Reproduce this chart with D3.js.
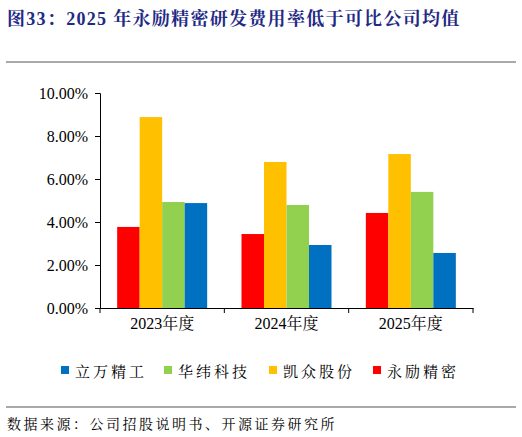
<!DOCTYPE html><html><head><meta charset="utf-8"><script src="https://d3js.org/d3.v7.min.js"></script>
<style>body{margin:0;background:#fff}svg{display:block}</style></head><body><svg width="522" height="437"></svg>
<script>
const categories=["2023年度","2024年度","2025年度"];
const seriesNames=["永励精密","凯众股份","华纬科技","立万精工"];
const seriesColors=["#FF0000","#FFC000","#92D050","#0070C0"];
const values=[[3.77,3.44,4.42],[8.88,6.79,7.16],[4.93,4.79,5.40],[4.88,2.93,2.56]];
const yTicks=[0,2,4,6,8,10];
const legendOrder=[3,2,1,0];
const svg=d3.select("svg");
const serif="'Liberation Serif','Noto Serif CJK SC','Noto Sans CJK SC',serif";
const cjk="'Noto Serif CJK SC','Noto Sans CJK SC',serif";
svg.append("text").attr("x",7).attr("y",25).attr("fill","#1F2A84").attr("font-weight","bold").attr("font-size",18).attr("letter-spacing",1.3).attr("font-family",serif).text("图33：2025 年永励精密研发费用率低于可比公司均值");
svg.append("line").attr("x1",6).attr("x2",516).attr("y1",62).attr("y2",62).attr("stroke","#555");
svg.append("line").attr("x1",6).attr("x2",516).attr("y1",407).attr("y2",407).attr("stroke","#555");
const y=d3.scaleLinear().domain([0,10]).range([308,93]);
const x0=d3.scaleBand().domain(categories).range([100,473]);
const x1=d3.scaleBand().domain(d3.range(4)).range([0,90]);
const g=svg.append("g");
values.forEach((vals,s)=>{
  g.selectAll(null).data(vals).enter().append("rect")
   .attr("x",(d,i)=>x0(categories[i])+(x0.bandwidth()-90)/2+x1(s)).attr("width",x1.bandwidth())
   .attr("y",d=>y(d)).attr("height",d=>308-y(d)).attr("fill",seriesColors[s]);
});
const ya=svg.append("g").attr("transform","translate(100,0)").call(d3.axisLeft(y).tickValues(yTicks).tickSize(5).tickFormat(d=>d.toFixed(2)+"%"));
ya.selectAll("text").attr("font-family",serif).attr("font-size",16).attr("fill","#000").attr("dx",-4);
ya.selectAll("line,path").attr("stroke","#000");
const xa=svg.append("g").attr("transform","translate(0,308)").call(d3.axisBottom(x0).tickSize(0));
xa.select("path").attr("stroke","#000");
xa.selectAll("text").attr("font-family",serif).attr("font-size",16).attr("fill","#000").attr("dy",18);
xa.selectAll(null).data(categories.concat(["end"])).enter().append("line")
 .attr("x1",(d,i)=>i<3?x0(d):473).attr("x2",(d,i)=>i<3?x0(d):473).attr("y1",0).attr("y2",5).attr("stroke","#000");
const lx=[61,164,269,373];
legendOrder.forEach((s,k)=>{
 svg.append("rect").attr("x",lx[k]).attr("y",366).attr("width",8).attr("height",8).attr("fill",seriesColors[s]);
 svg.append("text").attr("x",lx[k]+14).attr("y",377).attr("font-family",cjk).attr("font-size",15).attr("letter-spacing",3).text(seriesNames[s]);
});
svg.append("text").attr("x",7).attr("y",429).attr("font-family",cjk).attr("font-size",14).attr("letter-spacing",2.5).text("数据来源：公司招股说明书、开源证券研究所");
</script></body></html>
